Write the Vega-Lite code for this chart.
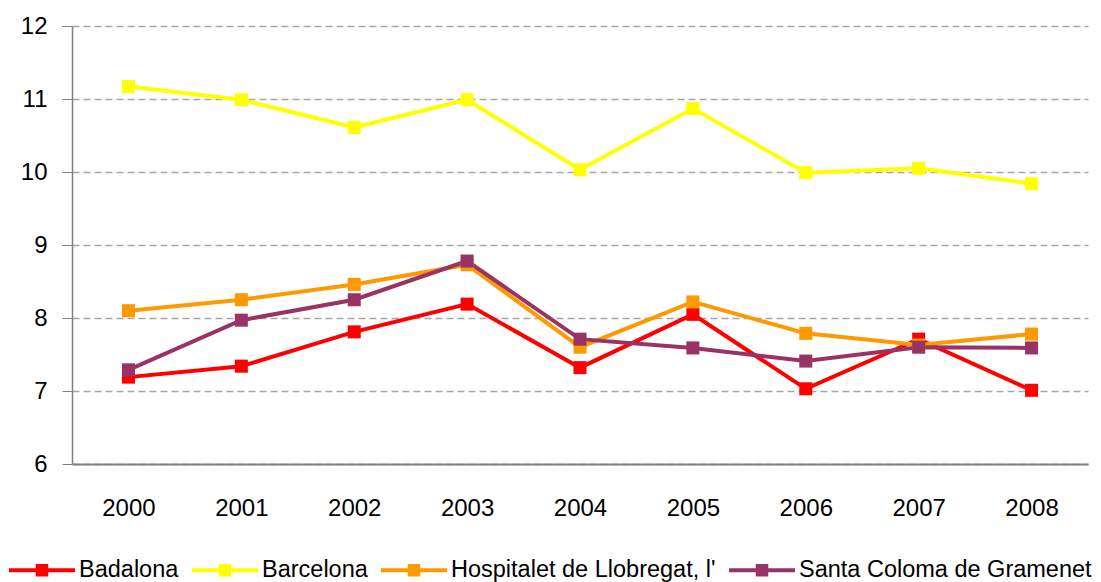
{
  "$schema": "https://vega.github.io/schema/vega-lite/v6.json",
  "autosize": {"type": "none"},
  "width": 1016,
  "height": 438,
  "padding": {"left": 72, "top": 26, "right": 13, "bottom": 118},
  "background": "white",
  "config": {
    "view": {"stroke": null},
    "font": "Liberation Sans, Arial, sans-serif"
  },
  "data": {
    "values": [
      {"year": "2000", "series": "Badalona", "value": 7.19},
      {"year": "2001", "series": "Badalona", "value": 7.34},
      {"year": "2002", "series": "Badalona", "value": 7.81},
      {"year": "2003", "series": "Badalona", "value": 8.19},
      {"year": "2004", "series": "Badalona", "value": 7.32},
      {"year": "2005", "series": "Badalona", "value": 8.05},
      {"year": "2006", "series": "Badalona", "value": 7.03},
      {"year": "2007", "series": "Badalona", "value": 7.71},
      {"year": "2008", "series": "Badalona", "value": 7.01},
      {"year": "2000", "series": "Barcelona", "value": 11.17},
      {"year": "2001", "series": "Barcelona", "value": 10.99},
      {"year": "2002", "series": "Barcelona", "value": 10.61},
      {"year": "2003", "series": "Barcelona", "value": 10.99},
      {"year": "2004", "series": "Barcelona", "value": 10.03},
      {"year": "2005", "series": "Barcelona", "value": 10.87},
      {"year": "2006", "series": "Barcelona", "value": 9.99},
      {"year": "2007", "series": "Barcelona", "value": 10.05},
      {"year": "2008", "series": "Barcelona", "value": 9.84},
      {"year": "2000", "series": "Hospitalet de Llobregat, l'", "value": 8.1},
      {"year": "2001", "series": "Hospitalet de Llobregat, l'", "value": 8.25},
      {"year": "2002", "series": "Hospitalet de Llobregat, l'", "value": 8.46},
      {"year": "2003", "series": "Hospitalet de Llobregat, l'", "value": 8.73},
      {"year": "2004", "series": "Hospitalet de Llobregat, l'", "value": 7.6},
      {"year": "2005", "series": "Hospitalet de Llobregat, l'", "value": 8.22},
      {"year": "2006", "series": "Hospitalet de Llobregat, l'", "value": 7.79},
      {"year": "2007", "series": "Hospitalet de Llobregat, l'", "value": 7.63},
      {"year": "2008", "series": "Hospitalet de Llobregat, l'", "value": 7.78},
      {"year": "2000", "series": "Santa Coloma de Gramenet", "value": 7.29},
      {"year": "2001", "series": "Santa Coloma de Gramenet", "value": 7.97},
      {"year": "2002", "series": "Santa Coloma de Gramenet", "value": 8.25},
      {"year": "2003", "series": "Santa Coloma de Gramenet", "value": 8.78},
      {"year": "2004", "series": "Santa Coloma de Gramenet", "value": 7.71},
      {"year": "2005", "series": "Santa Coloma de Gramenet", "value": 7.59},
      {"year": "2006", "series": "Santa Coloma de Gramenet", "value": 7.41},
      {"year": "2007", "series": "Santa Coloma de Gramenet", "value": 7.6},
      {"year": "2008", "series": "Santa Coloma de Gramenet", "value": 7.59}
    ]
  },
  "encoding": {
    "x": {
      "field": "year", "type": "nominal", "title": null,
      "scale": {"type": "point", "padding": 0.5},
      "axis": {
        "labelAngle": 0, "labelFontSize": 24, "labelColor": "#000000",
        "ticks": false, "labelPadding": 32, "grid": false,
        "domainColor": "#808080", "domainWidth": 2
      }
    },
    "y": {
      "field": "value", "type": "quantitative", "title": null,
      "scale": {"domain": [6, 12], "nice": false, "zero": false},
      "axis": {
        "values": [6, 7, 8, 9, 10, 11, 12],
        "labelFontSize": 24, "labelColor": "#000000",
        "tickSize": 10, "tickColor": "#808080", "labelPadding": 15,
        "domainColor": "#808080", "domainWidth": 1.5,
        "grid": true, "gridColor": "#A6A6A6", "gridDash": [7, 4], "gridWidth": 1.5
      }
    },
    "color": {
      "field": "series", "type": "nominal", "title": null,
      "scale": {
        "domain": ["Badalona", "Barcelona", "Hospitalet de Llobregat, l'", "Santa Coloma de Gramenet"],
        "range": ["#FF0000", "#FFFF00", "#FF9900", "#993366"]
      },
      "legend": {
        "orient": "none", "direction": "horizontal", "columns": 4,
        "legendX": -63, "legendY": 511, "padding": 0,
        "symbolType": "M-1,-0.0625H1V0.0625H-1Z M-0.19,-0.19H0.19V0.19H-0.19Z",
        "symbolSize": 4356, "symbolStrokeWidth": 0, "symbolOpacity": 1,
        "labelFontSize": 23.5, "labelColor": "#000000", "labelLimit": 500,
        "labelOffset": 4, "columnPadding": 13
      }
    }
  },
  "layer": [
    {"mark": {"type": "line", "strokeWidth": 4}},
    {"mark": {"type": "point", "shape": "square", "filled": true, "size": 170, "opacity": 1}}
  ]
}
